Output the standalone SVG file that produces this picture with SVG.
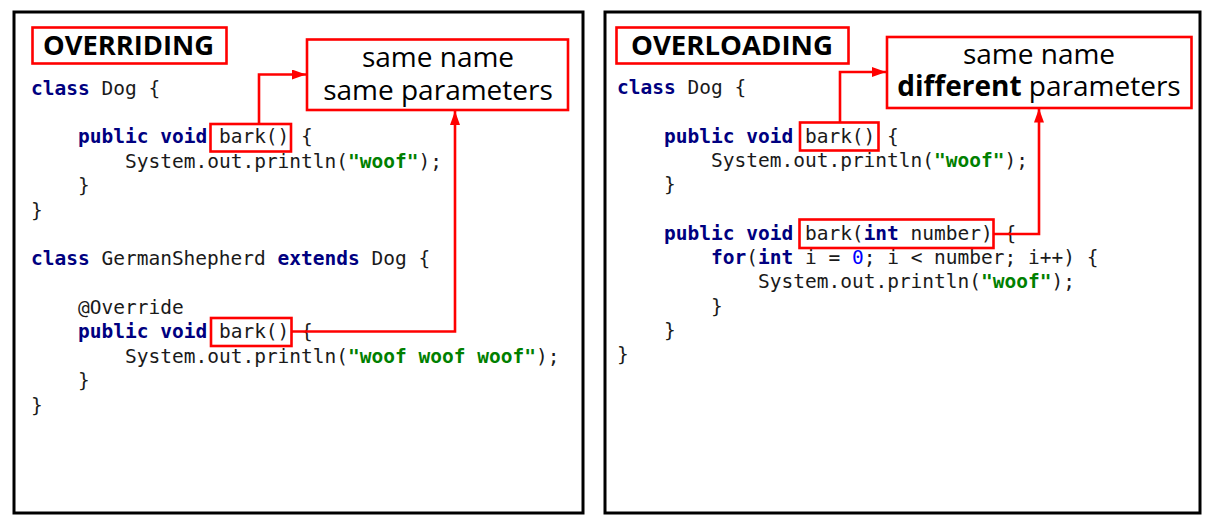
<svg xmlns="http://www.w3.org/2000/svg" width="1217" height="522" viewBox="0 0 1217 522">
<style>
.panel{fill:#fff;stroke:#000;stroke-width:3}
.rbox{fill:none;stroke:#ff0000;stroke-width:2.6}
.cbox{fill:#fff;stroke:#ff0000;stroke-width:2.6}
.title{font-family:"Open Sans","DejaVu Sans",sans-serif;font-weight:bold;font-size:27px;fill:#000}
.note{font-family:"Open Sans","DejaVu Sans",sans-serif;font-size:28px;fill:#000;text-anchor:middle}
.b{font-weight:bold}
.code{font-family:"DejaVu Sans Mono","Liberation Mono",monospace;font-size:19.5px;fill:#1a1a1a}
.kw{fill:#000080;font-weight:bold}
.str{fill:#008000;font-weight:bold}
.num{fill:#0000ff}
.conn{fill:none;stroke:#ff0000;stroke-width:2.6}
</style>
<defs>
<marker id="arr" markerUnits="userSpaceOnUse" markerWidth="14" markerHeight="10" refX="14" refY="5" orient="auto">
<path d="M0,0 L14,5 L0,10 z" fill="#ff0000"/>
</marker>
</defs>
<rect width="1217" height="522" fill="#fff"/>
<g id="panel-overriding">
<rect class="panel" x="14" y="12" width="569" height="501"/>
</g>
<g id="panel-overloading">
<rect class="panel" x="605" y="12" width="595" height="501"/>
</g>
<g id="title-overriding">
<rect class="rbox" x="32.5" y="27.5" width="194" height="36"/>
<text class="title" x="43" y="55" textLength="171" lengthAdjust="spacingAndGlyphs">OVERRIDING</text>
</g>
<g id="title-overloading">
<rect class="rbox" x="616.5" y="27.5" width="232" height="36"/>
<text class="title" x="631" y="55" textLength="202" lengthAdjust="spacingAndGlyphs">OVERLOADING</text>
</g>
<g id="note-overriding">
<rect class="cbox" x="307" y="39.5" width="261" height="70.5"/>
<text class="note" x="438" y="66.5">same name</text>
<text class="note" x="438" y="100">same parameters</text>
</g>
<g id="note-overloading">
<rect class="cbox" x="887" y="37" width="304.5" height="71"/>
<text class="note" x="1039" y="63.5">same name</text>
<text class="note" x="1039" y="95.5"><tspan class="b">different</tspan> parameters</text>
</g>
<g id="code-overriding" class="code" xml:space="preserve">
<text x="31" y="94.6"><tspan class="kw">class</tspan> Dog {</text>
<text x="78" y="143.3"><tspan class="kw">public</tspan> <tspan class="kw">void</tspan> bark() {</text>
<text x="125" y="167.7">System.out.println(<tspan class="str">"woof"</tspan>);</text>
<text x="78" y="192.1">}</text>
<text x="31" y="216.5">}</text>
<text x="31" y="265.2"><tspan class="kw">class</tspan> GermanShepherd <tspan class="kw">extends</tspan> Dog {</text>
<text x="78" y="314">@Override</text>
<text x="78" y="338.3"><tspan class="kw">public</tspan> <tspan class="kw">void</tspan> bark() {</text>
<text x="125" y="362.7">System.out.println(<tspan class="str">"woof woof woof"</tspan>);</text>
<text x="78" y="387">}</text>
<text x="31" y="411.5">}</text>
</g>
<g id="code-overloading" class="code" xml:space="preserve">
<text x="617" y="93.8"><tspan class="kw">class</tspan> Dog {</text>
<text x="664" y="142.5"><tspan class="kw">public</tspan> <tspan class="kw">void</tspan> bark() {</text>
<text x="711" y="166.8">System.out.println(<tspan class="str">"woof"</tspan>);</text>
<text x="664" y="191.1">}</text>
<text x="664" y="239.8"><tspan class="kw">public</tspan> <tspan class="kw">void</tspan> bark(<tspan class="kw">int</tspan> number) {</text>
<text x="711" y="264.1"><tspan class="kw">for</tspan>(<tspan class="kw">int</tspan> i = <tspan class="num">0</tspan>; i &lt; number; i++) {</text>
<text x="758" y="288.4">System.out.println(<tspan class="str">"woof"</tspan>);</text>
<text x="711" y="312.8">}</text>
<text x="664" y="337.1">}</text>
<text x="617" y="361.4">}</text>
</g>
<g id="highlight-dog-bark">
<rect class="rbox" x="210.5" y="124" width="80.5" height="27.5"/>
</g>
<g id="highlight-shepherd-bark">
<rect class="rbox" x="211" y="318" width="80.5" height="28"/>
</g>
<g id="highlight-bark">
<rect class="rbox" x="800" y="122.5" width="78.5" height="28"/>
</g>
<g id="highlight-bark-int">
<rect class="rbox" x="799.5" y="219.5" width="194" height="28.5"/>
</g>
<g id="connectors">
<path class="conn" d="M259,124 V74.5 H306" marker-end="url(#arr)"/>
<path class="conn" d="M291.5,331.5 H455 V111" marker-end="url(#arr)"/>
<path class="conn" d="M840,122.5 V72 H886" marker-end="url(#arr)"/>
<path class="conn" d="M993.5,234 H1039 V108.5" marker-end="url(#arr)"/>
</g>
</svg>
